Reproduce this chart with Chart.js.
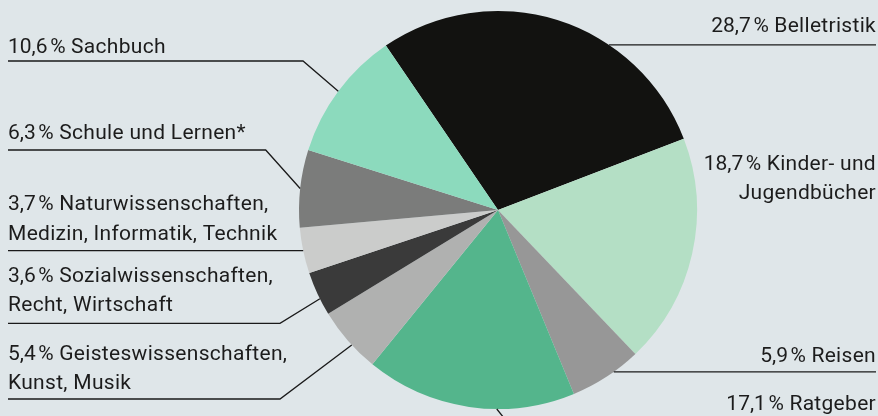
<!DOCTYPE html>
<html>
<head>
<meta charset="utf-8">
<script src="https://cdn.jsdelivr.net/npm/chart.js@4"></script>
<style>
  html, body { margin: 0; padding: 0; background: #dfe6e9; }
  #wrap { width: 878px; height: 416px; position: relative; }
</style>
</head>
<body>
<div id="wrap"><canvas id="c" width="878" height="416"></canvas></div>
<script>
// ---- data ----
const categories = [
  ['Belletristik'],
  ['Kinder- und', 'Jugendbücher'],
  ['Reisen'],
  ['Ratgeber'],
  ['Geisteswissenschaften,', 'Kunst, Musik'],
  ['Sozialwissenschaften,', 'Recht, Wirtschaft'],
  ['Naturwissenschaften,', 'Medizin, Informatik, Technik'],
  ['Schule und Lernen*'],
  ['Sachbuch']
];
const shares = [28.7, 18.7, 5.9, 17.1, 5.4, 3.6, 3.7, 6.3, 10.6];
const sliceColors = ['#121210', '#b4dfc5', '#979797', '#54b58c', '#b0b1b0', '#3a3a3a', '#cbcccb', '#7b7c7b', '#8cdabd'];

// ---- label layout (positions only) ----
// side, text x, baselines, anchor fraction within slice, elbow point (null = horizontal), line end x
const labelLayout = [
  { align: 'right', x: 876, base: [32.3],        t: 0.66, elbow: null,          endX: 876 },
  { align: 'right', x: 876, base: [170, 199],    t: null },
  { align: 'right', x: 876, base: [362.3],       t: 0.38, elbow: null,          endX: 876 },
  { align: 'right', x: 876, base: [410],         t: 0.37, elbow: [504, 418],    endX: 876 },
  { align: 'left',  x: 8,   base: [360, 389.3],  t: 0.42, elbow: [280, 399],    endX: 8 },
  { align: 'left',  x: 8,   base: [281.7, 311],  t: 0.38, elbow: [280, 323.3],  endX: 8 },
  { align: 'left',  x: 8,   base: [210, 240],    t: 0.5,  elbow: null,          endX: 8 },
  { align: 'left',  x: 8,   base: [139.3],       t: 0.5,  elbow: [265.7, 150],  endX: 8 },
  { align: 'left',  x: 8,   base: [52.7],        t: 0.5,  elbow: [303, 61],     endX: 8 }
];

const fmt = v => v.toFixed(1).replace('.', ',') + '\u202f%';

const labelPlugin = {
  id: 'leaderLabels',
  afterDatasetsDraw(chart) {
    const ctx = chart.ctx;
    const meta = chart.getDatasetMeta(0);
    ctx.save();
    ctx.font = '21px Roboto';
    if ('letterSpacing' in ctx) ctx.letterSpacing = '0.3px';
    ctx.fillStyle = '#1c1c1c';
    ctx.strokeStyle = '#1a1a1a';
    ctx.lineWidth = 1.3;
    labelLayout.forEach((L, i) => {
      const lines = categories[i].slice();
      lines[0] = fmt(shares[i]) + ' ' + lines[0];
      ctx.textAlign = L.align;
      ctx.textBaseline = 'alphabetic';
      lines.forEach((s, k) => ctx.fillText(s, L.x, L.base[k]));
      if (L.t === null) return;
      const arc = meta.data[i];
      const p = arc.getProps(['x', 'y', 'startAngle', 'endAngle', 'outerRadius'], true);
      const a = p.startAngle + (p.endAngle - p.startAngle) * L.t;
      const ax = p.x + Math.cos(a) * p.outerRadius;
      const ay = p.y + Math.sin(a) * p.outerRadius;
      ctx.beginPath();
      ctx.moveTo(ax, ay);
      if (L.elbow) {
        ctx.lineTo(L.elbow[0], L.elbow[1]);
        ctx.lineTo(L.endX, L.elbow[1]);
      } else {
        ctx.lineTo(L.endX, ay);
      }
      ctx.stroke();
    });
    ctx.restore();
  }
};

new Chart(document.getElementById('c'), {
  type: 'pie',
  data: {
    labels: categories.map(c => c.join(' ')),
    datasets: [{
      data: shares,
      backgroundColor: sliceColors,
      borderWidth: 0
    }]
  },
  options: {
    responsive: false,
    animation: false,
    rotation: -34.3,
    layout: { padding: { top: 11, bottom: 7, left: 299, right: 181 } },
    plugins: { legend: { display: false }, tooltip: { enabled: false } }
  },
  plugins: [labelPlugin]
});
</script>
</body>
</html>
